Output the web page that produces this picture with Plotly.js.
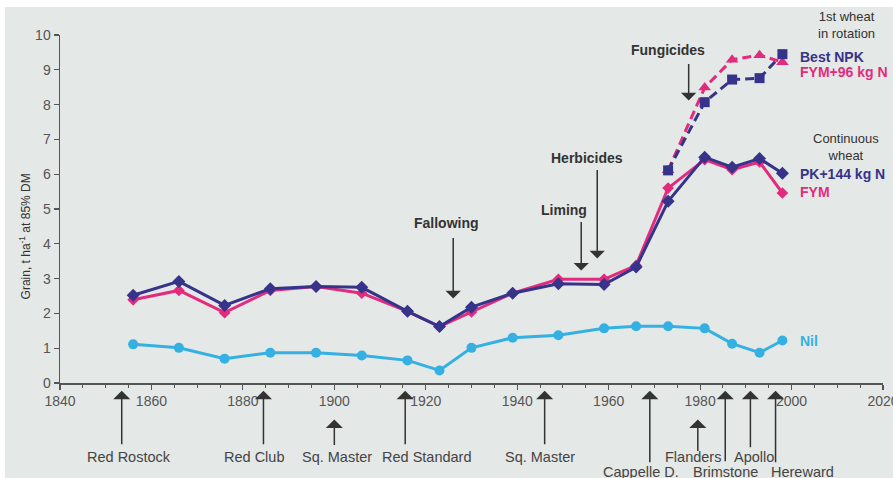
<!DOCTYPE html>
<html>
<head>
<meta charset="utf-8">
<script src="https://cdn.plot.ly/plotly-3.0.1.min.js"></script>
<style>
  html, body { margin: 0; padding: 0; background: #ffffff; width: 893px; height: 478px; overflow: hidden; }
  #chart { position: absolute; left: 5px; top: 7px; width: 888px; height: 471px; }
</style>
</head>
<body>
<div id="chart"></div>
<script>
// ---- data ----
const years = [1856, 1866, 1876, 1886, 1896, 1906, 1916, 1923, 1930, 1939, 1949, 1959, 1966, 1973, 1981, 1987, 1993, 1998];
const nil   = [1.11, 1.01, 0.70, 0.87, 0.87, 0.79, 0.65, 0.36, 1.01, 1.30, 1.37, 1.57, 1.63, 1.63, 1.57, 1.13, 0.87, 1.22];
const pk144 = [2.52, 2.92, 2.23, 2.71, 2.77, 2.75, 2.06, 1.62, 2.18, 2.58, 2.85, 2.83, 3.33, 5.22, 6.49, 6.20, 6.45, 6.03];
const fym   = [2.39, 2.66, 2.02, 2.66, 2.77, 2.58, 2.06, 1.62, 2.04, 2.58, 2.98, 2.98, 3.38, 5.60, 6.42, 6.13, 6.35, 5.46];

const rotYears = [1973, 1981, 1987, 1993, 1998];
const bestNPK  = [6.11, 8.07, 8.72, 8.76, 9.45];
const fym96N   = [6.11, 8.49, 9.29, 9.42, 9.22];

const varietyNames = ['Red Rostock', 'Red Club', 'Sq. Master', 'Red Standard', 'Sq. Master', 'Cappelle D.', 'Flanders', 'Brimstone', 'Apollo', 'Hereward'];
const varietyYears = [1853.5, 1884.5, 1900, 1915.5, 1946, 1969, 1979.5, 1985.5, 1991, 1996.5];

const eventNames = ['Fallowing', 'Liming', 'Herbicides', 'Fungicides'];
const eventYears = [1926, 1954, 1957.5, 1977.5];
const eventTipY  = [2.43, 3.23, 3.58, 8.12];

const xTickVals = [1840, 1860, 1880, 1900, 1920, 1940, 1960, 1980, 2000, 2020];
const yTickVals = [0, 1, 2, 3, 4, 5, 6, 7, 8, 9, 10];

// ---- styling / layout helpers ----
const NAVY = '#35338a', PINK = '#e32b7d', CYAN = '#34b0e2', DARK = '#333333', GREY = '#555555';
const FONT = 'Liberation Sans, Arial, Helvetica, sans-serif';

const traces = [
  { x: years, y: nil, name: 'Nil', mode: 'lines+markers',
    line: { color: CYAN, width: 3 }, marker: { color: CYAN, symbol: 'circle', size: 10 } },
  { x: years, y: fym, name: 'FYM', mode: 'lines+markers',
    line: { color: PINK, width: 3 }, marker: { color: PINK, symbol: 'diamond', size: 9 } },
  { x: years, y: pk144, name: 'PK+144 kg N', mode: 'lines+markers',
    line: { color: NAVY, width: 3 }, marker: { color: NAVY, symbol: 'diamond', size: 10 } },
  { x: rotYears, y: fym96N, name: 'FYM+96 kg N', mode: 'lines+markers',
    line: { color: PINK, width: 3, dash: '9px,5px' }, marker: { color: PINK, symbol: 'triangle-up', size: 11 } },
  { x: rotYears, y: bestNPK, name: 'Best NPK', mode: 'lines+markers',
    line: { color: NAVY, width: 3, dash: '9px,5px' }, marker: { color: NAVY, symbol: 'square', size: 10 } }
];

const annotations = [];

// y axis title as rotated annotation
annotations.push({ xref: 'paper', yref: 'paper', x: -0.043, y: 0.42, xanchor: 'center', yanchor: 'middle',
  text: 'Grain, t ha<sup>-1</sup> at 85% DM', textangle: -90, showarrow: false,
  font: { family: FONT, size: 12, color: DARK } });

// right-side labels (y in paper fraction of plot height)
const sideLabels = [
  { text: '1st wheat<br>in rotation', y: 1.028, color: DARK, bold: false, x: 2012, anchor: 'center' },
  { text: 'Best NPK', y: 0.936, color: NAVY, bold: true, x: 2001.5, anchor: 'left' },
  { text: 'FYM+96 kg N', y: 0.893, color: PINK, bold: true, x: 2001.5, anchor: 'left' },
  { text: 'Continuous<br>wheat', y: 0.677, color: DARK, bold: false, x: 2012, anchor: 'center' },
  { text: 'PK+144 kg N', y: 0.602, color: NAVY, bold: true, x: 2001.5, anchor: 'left' },
  { text: 'FYM', y: 0.548, color: PINK, bold: true, x: 2001.5, anchor: 'left' },
  { text: 'Nil', y: 0.122, color: CYAN, bold: true, x: 2001.5, anchor: 'left' }
];
sideLabels.forEach(l => annotations.push({
  xref: 'x', yref: 'paper', x: l.x, y: l.y, xanchor: l.anchor, yanchor: 'middle', showarrow: false,
  text: l.bold ? '<b>' + l.text + '</b>' : l.text,
  font: { family: FONT, size: l.bold ? 14 : 13, color: l.color }
}));

// event arrows (pointing down) and their labels
const eventArrowLen = [62, 50, 90, 38];
const eventTextX = [1924.5, 1950.2, 1955.2, 1972.9];
const eventTextY = [4.59, 4.96, 6.48, 9.56];
eventNames.forEach((n, i) => {
  annotations.push({ xref: 'x', yref: 'y', x: eventYears[i], y: eventTipY[i], text: '',
    showarrow: true, arrowhead: 1, arrowsize: 1.7, arrowwidth: 1.5, arrowcolor: DARK,
    ax: 0, ay: -eventArrowLen[i] });
  annotations.push({ xref: 'x', yref: 'y', x: eventTextX[i], y: eventTextY[i], text: '<b>' + n + '</b>',
    showarrow: false, xanchor: 'center', yanchor: 'middle',
    font: { family: FONT, size: 14, color: DARK } });
});

// variety arrows (pointing up) below the x axis
const varTipY   = [-0.022, -0.022, -0.105, -0.022, -0.022, -0.022, -0.105, -0.022, -0.022, -0.022];
const varLen    = [55, 55, 27, 55, 55, 73, 33, 72, 58, 73];
const varTextDX = [1.5, -2, 0.5, 4.7, -1, -2, -1, 0, 0.7, 5.8];
const varTextY  = [-0.212, -0.212, -0.212, -0.212, -0.212, -0.255, -0.212, -0.255, -0.212, -0.255];
varietyNames.forEach((n, i) => {
  annotations.push({ xref: 'x', yref: 'paper', x: varietyYears[i], y: varTipY[i], text: '',
    showarrow: true, arrowhead: 1, arrowsize: 1.9, arrowwidth: 1.5, arrowcolor: DARK,
    ax: 0, ay: varLen[i] });
  annotations.push({ xref: 'x', yref: 'paper', x: varietyYears[i] + varTextDX[i], y: varTextY[i], text: n,
    showarrow: false, xanchor: 'center', yanchor: 'middle',
    font: { family: FONT, size: 14.5, color: '#444444' } });
});

const layout = {
  width: 888, height: 471,
  margin: { l: 55, r: 10, t: 28, b: 95, pad: 0 },
  paper_bgcolor: '#e4e8e7', plot_bgcolor: '#e4e8e7',
  showlegend: false,
  font: { family: FONT, color: GREY },
  xaxis: {
    range: [1840, 2020], tickmode: 'array', tickvals: xTickVals, ticktext: xTickVals.map(String),
    ticks: 'outside', ticklen: 5, tickwidth: 1.2, tickcolor: GREY, ticklabeloverflow: 'allow',
    minor: { dtick: 5, tick0: 1840, ticks: 'outside', ticklen: 3, tickcolor: GREY, tickwidth: 1 },
    showline: true, linecolor: GREY, linewidth: 1.5, showgrid: false, zeroline: false,
    tickfont: { family: FONT, size: 14, color: GREY }, fixedrange: true
  },
  yaxis: {
    range: [0, 10], tickmode: 'array', tickvals: yTickVals, ticktext: yTickVals.map(String),
    ticks: 'outside', ticklen: 5, tickwidth: 1.2, tickcolor: GREY,
    showline: true, linecolor: GREY, linewidth: 1.5, showgrid: false, zeroline: false,
    tickfont: { family: FONT, size: 14, color: GREY }, fixedrange: true
  },
  annotations: annotations
};

Plotly.newPlot('chart', traces, layout, { displayModeBar: false, staticPlot: true });
</script>
</body>
</html>
